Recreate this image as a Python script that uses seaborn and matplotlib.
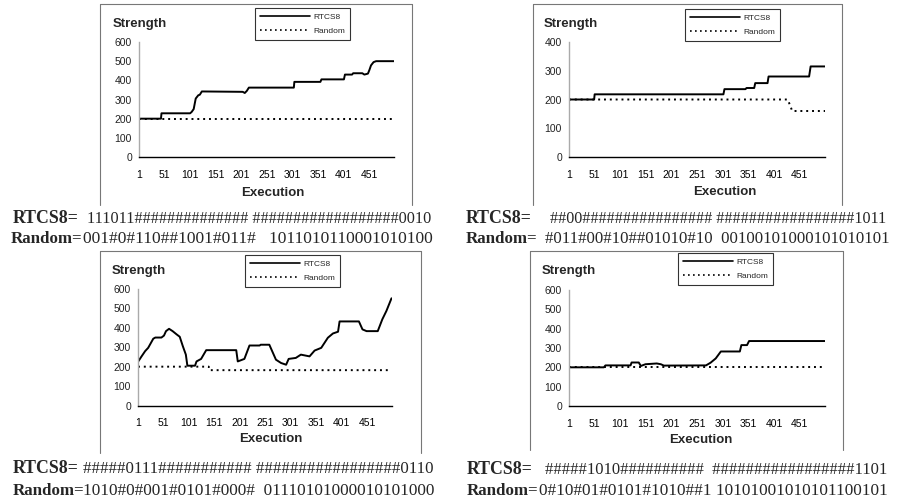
import numpy as np
import pandas as pd
import matplotlib
matplotlib.use("Agg")
import matplotlib.pyplot as plt
from matplotlib.lines import Line2D
import seaborn as sns

# ---------------- data ----------------
x_tick_labels = [1, 51, 101, 151, 201, 251, 301, 351, 401, 451]
series_names = ["RTCS8", "Random"]

# panel 1 (top left)
p1_rtcs_x = [1, 44, 45, 101, 104, 108, 112, 117, 120, 124, 204, 208, 212, 216, 304, 305,
             356, 358, 402, 404, 418, 420, 438, 442, 449, 452, 455, 460, 465, 500]
p1_rtcs_y = [200, 200, 228, 228, 235, 250, 305, 322, 325, 342, 340, 334, 345, 362, 362, 392,
             392, 405, 405, 430, 430, 437, 437, 430, 435, 455, 478, 495, 500, 500]
p1_rand_x = [1, 500]
p1_rand_y = [200, 200]
p1_yticks = [0, 100, 200, 300, 400, 500, 600]
p1_rtcs_str = "111011############## ##################0010"
p1_rand_str = "001#0#110##1001#011#   1011010110001010100"

# panel 2 (top right)
p2_rtcs_x = [1, 50, 51, 302, 304, 345, 347, 362, 364, 388, 390, 469, 472, 500]
p2_rtcs_y = [200, 200, 218, 218, 236, 236, 240, 240, 257, 257, 280, 280, 315, 315]
p2_rand_x = [1, 427, 432, 436, 500]
p2_rand_y = [200, 200, 180, 160, 160]
p2_yticks = [0, 100, 200, 300, 400]
p2_rtcs_str = "##00################ #################1011"
p2_rand_str = "#011#00#10##01010#10  00100101000101010101"

# panel 3 (bottom left)
p3_rtcs_x = [1, 8, 15, 21, 31, 35, 47, 52, 56, 62, 69, 77, 83, 89, 95, 98, 113, 116, 125, 135,
             194, 197, 210, 220, 240, 242, 259, 272, 282, 292, 297, 311, 321, 338, 348, 361,
             374, 384, 394, 397, 435, 442, 450, 472, 481, 489, 499]
p3_rtcs_y = [225, 253, 280, 297, 344, 350, 350, 360, 383, 395, 383, 366, 354, 306, 262, 205,
             205, 227, 240, 285, 285, 227, 240, 309, 309, 313, 313, 236, 219, 210, 240, 245,
             262, 253, 283, 297, 349, 371, 380, 433, 433, 392, 383, 383, 444, 487, 552]
p3_rand_x = [1, 140, 141, 497]
p3_rand_y = [200, 200, 182, 182]
p3_yticks = [0, 100, 200, 300, 400, 500, 600]
p3_rtcs_str = "#####0111########### #################0110"
p3_rand_str = "1010#0#001#0101#000#  01110101000010101000"

# panel 4 (bottom right)
p4_rtcs_x = [1, 69, 72, 121, 123, 137, 141, 150, 172, 180, 186, 268, 277, 287, 297, 334,
             337, 348, 352, 500]
p4_rtcs_y = [200, 200, 210, 210, 225, 225, 207, 216, 220, 216, 209, 210, 224, 246, 282, 282,
             315, 315, 336, 336]
p4_rand_x = [1, 500]
p4_rand_y = [200, 200]
p4_yticks = [0, 100, 200, 300, 400, 500, 600]
p4_rtcs_str = "#####1010##########  #################1101"
p4_rand_str = "0#10#01#0101#1010##1 10101001010101100101"

# ---------------- style ----------------
sns.set_style("white")
plt.rcParams["font.family"] = ["Liberation Sans", "DejaVu Sans"]
plt.rcParams["lines.linewidth"] = 1.3

W, H = 906, 498
fig = plt.figure(figsize=(W / 100, H / 100), dpi=100)
fig.patch.set_facecolor("white")
renderer = fig.canvas.get_renderer()


def fx(px):
    return px / W


def fy(py):
    return 1 - py / H


def fit_text(x_start, x_end, y, s, base=12.0):
    t = fig.text(fx(x_start), fy(y), s, fontsize=base, family="Liberation Serif",
                 ha="left", va="baseline")
    w = t.get_window_extent(renderer=renderer).width
    if w > 0:
        size = base * (x_end - x_start) / w
        size = min(max(size, base * 0.88), base * 1.12)
        t.set_fontsize(size)
    return t


panels = [
    dict(ax=(139, 394, 42, 157), rx=p1_rtcs_x, ry=p1_rtcs_y, dx=p1_rand_x, dy=p1_rand_y,
         yt=p1_yticks, frame=(100, 412, 4, 205), leg=(255, 8), strength=(113, 27),
         execution=(273, 196), s1=p1_rtcs_str, s2=p1_rand_str,
         t1=(13, 87, 223), t2=(11, 83, 243), tend=433),
    dict(ax=(569, 825, 42, 157), rx=p2_rtcs_x, ry=p2_rtcs_y, dx=p2_rand_x, dy=p2_rand_y,
         yt=p2_yticks, frame=(533, 842, 4, 205), leg=(685, 9), strength=(544, 27),
         execution=(725, 195), s1=p2_rtcs_str, s2=p2_rand_str,
         t1=(466, 550, 223), t2=(466, 545, 243), tend=886),
    dict(ax=(138, 392, 289, 405.5), rx=p3_rtcs_x, ry=p3_rtcs_y, dx=p3_rand_x, dy=p3_rand_y,
         yt=p3_yticks, frame=(100, 421, 251, 453), leg=(245, 255), strength=(112, 274),
         execution=(271, 442), s1=p3_rtcs_str, s2=p3_rand_str,
         t1=(13, 83, 473), t2=(13, 83, 495), tend=433),
    dict(ax=(569, 825, 290, 406), rx=p4_rtcs_x, ry=p4_rtcs_y, dx=p4_rand_x, dy=p4_rand_y,
         yt=p4_yticks, frame=(530, 843, 251, 450), leg=(678, 253), strength=(542, 274),
         execution=(701, 443), s1=p4_rtcs_str, s2=p4_rand_str,
         t1=(467, 545, 474), t2=(467, 539, 495), tend=886),
]

for p in panels:
    l, r, t, b = p["ax"]
    ax = fig.add_axes([fx(l), fy(b), fx(r - l), (b - t) / H])
    df = pd.DataFrame({
        "Execution": list(p["rx"]) + list(p["dx"]),
        "Strength": list(p["ry"]) + list(p["dy"]),
        "Series": [series_names[0]] * len(p["rx"]) + [series_names[1]] * len(p["dx"]),
    })
    sns.lineplot(data=df, x="Execution", y="Strength", hue="Series", style="Series",
                 palette={"RTCS8": "black", "Random": "black"},
                 dashes={"RTCS8": "", "Random": (1, 2)},
                 estimator=None, sort=False, linewidth=1.4, ax=ax, legend=True)
    old = ax.get_legend()
    handles = list(old.legend_handles)
    labels = [tx.get_text() for tx in old.get_texts()]
    old.remove()
    for h in handles:
        h.set_linewidth(1.2)
    leg = ax.legend(handles, labels, loc="upper left",
                    bbox_to_anchor=(fx(p["leg"][0]), fy(p["leg"][1])),
                    bbox_transform=fig.transFigure, frameon=True, fancybox=False,
                    edgecolor="black", fontsize=6, handlelength=6.0, handletextpad=0.4,
                    borderpad=0.6, labelspacing=0.8, borderaxespad=0)
    leg.get_frame().set_linewidth(0.8)

    ax.set_xlim(1, 500)
    ax.set_ylim(0, max(p["yt"]))
    ax.set_xticks(x_tick_labels)
    ax.set_xticklabels([str(v) for v in x_tick_labels])
    ax.set_yticks(p["yt"])
    ax.set_xlabel("")
    ax.set_ylabel("")
    ax.tick_params(axis="x", length=0, pad=9, labelsize=7.5, colors="black")
    ax.tick_params(axis="y", direction="inout", length=6, width=0.8, pad=2,
                   labelsize=7.5, colors="#222222")
    for s in ["top", "right"]:
        ax.spines[s].set_visible(False)
    ax.spines["left"].set_color("#aaaaaa")
    ax.spines["left"].set_linewidth(1.0)
    ax.spines["bottom"].set_color("black")
    ax.spines["bottom"].set_linewidth(1.0)
    ax.set_facecolor("none")

    # titles
    fig.text(fx(p["strength"][0]), fy(p["strength"][1]), "Strength", fontsize=9.5,
             fontweight="bold", ha="left", va="baseline")
    fig.text(fx(p["execution"][0]), fy(p["execution"][1]), "Execution", fontsize=9.5,
             fontweight="bold", ha="center", va="baseline")

    # frame (left, top, right)
    fl, fr, ft, fb = p["frame"]
    fig.add_artist(Line2D([fx(fl), fx(fl)], [fy(ft), fy(fb)], color="#777777", lw=0.8))
    fig.add_artist(Line2D([fx(fr), fx(fr)], [fy(ft), fy(fb)], color="#777777", lw=0.8))
    fig.add_artist(Line2D([fx(fl), fx(fr)], [fy(ft), fy(ft)], color="#777777", lw=0.8))

    # strings under the chart
    x1, x1v, y1 = p["t1"]
    x2, x2v, y2 = p["t2"]
    fig.text(fx(x1), fy(y1), "RTCS8=", fontsize=12.8, fontweight="bold",
             family="Liberation Serif", ha="left", va="baseline")
    fit_text(x1v, p["tend"], y1, p["s1"])
    fig.text(fx(x2), fy(y2), "Random=", fontsize=12.2, fontweight="bold",
             family="Liberation Serif", ha="left", va="baseline")
    fit_text(x2v, p["tend"], y2, p["s2"])

fig.savefig("out.png", dpi=100, facecolor="white")
